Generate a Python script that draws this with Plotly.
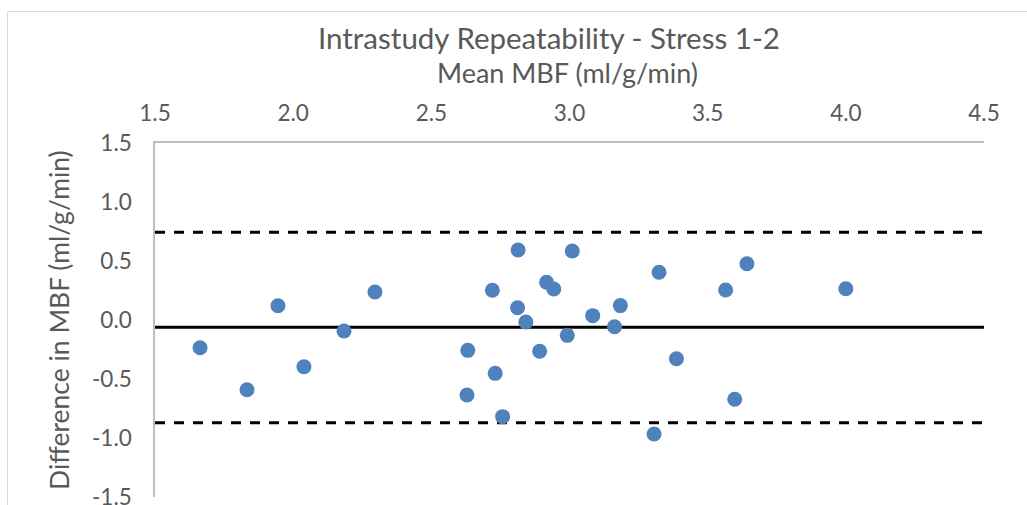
import plotly.graph_objects as go

# Bland-Altman data: mean of the two stress studies vs. their difference
mean_mbf = [1.663, 1.833, 1.945, 2.039, 2.184, 2.296, 2.632, 2.629, 2.721, 2.731,
            2.758, 2.814, 2.812, 2.842, 2.892, 2.917, 2.943, 2.992, 3.010, 3.084,
            3.163, 3.184, 3.306, 3.324, 3.387, 3.565, 3.598, 3.642, 4.000]
diff_mbf = [-0.235, -0.591, 0.121, -0.396, -0.093, 0.237, -0.257, -0.636, 0.252, -0.452,
            -0.819, 0.593, 0.104, -0.017, -0.265, 0.320, 0.263, -0.130, 0.585, 0.037,
            -0.057, 0.122, -0.966, 0.405, -0.328, 0.254, -0.672, 0.477, 0.265]

# Bias and limits of agreement
bias = -0.062
loa_upper = 0.743
loa_lower = -0.870

x_range = [1.5, 4.5]
y_range = [-1.5, 1.5]
x_ticks = [1.5, 2.0, 2.5, 3.0, 3.5, 4.0, 4.5]
x_tick_labels = ["1.5", "2.0", "2.5", "3.0", "3.5", "4.0", "4.5"]
y_ticks = [1.5, 1.0, 0.5, 0.0, -0.5, -1.0, -1.5]
y_tick_labels = ["1.5", "1.0", "0.5", "0.0", "-0.5", "-1.0", "-1.5"]

FONT = "Lato"
TEXT = "#595959"
AXIS = "#bfbfbf"

W, H = 1027, 505
ML, MR, MT, MB = 155, 43, 143, 8
PW, PH = W - ML - MR, H - MT - MB


def px_x(p):
    return (p - ML) / PW


def px_y(p):
    return (H - MB - p) / PH


fig = go.Figure()

fig.add_trace(go.Scatter(x=x_range, y=[loa_upper, loa_upper], mode="lines",
                         line=dict(color="black", width=3, dash="10px,9px"),
                         hoverinfo="skip", showlegend=False))
fig.add_trace(go.Scatter(x=x_range, y=[loa_lower, loa_lower], mode="lines",
                         line=dict(color="black", width=3, dash="10px,9px"),
                         hoverinfo="skip", showlegend=False))
fig.add_trace(go.Scatter(x=x_range, y=[bias, bias], mode="lines",
                         line=dict(color="black", width=3),
                         hoverinfo="skip", showlegend=False))
fig.add_trace(go.Scatter(x=mean_mbf, y=diff_mbf, mode="markers",
                         marker=dict(color="#4F81BD", size=15),
                         showlegend=False))

fig.update_layout(
    width=W, height=H,
    margin=dict(l=ML, r=MR, t=MT, b=MB),
    paper_bgcolor="white", plot_bgcolor="white",
    font=dict(family=FONT, color=TEXT),
    xaxis=dict(range=x_range, side="top", tickvals=x_ticks, ticktext=x_tick_labels,
               showgrid=False, zeroline=False, showline=True, linecolor=AXIS,
               linewidth=1.5, ticks="", ticklabelstandoff=11,
               ticklabeloverflow="allow", automargin=False,
               tickfont=dict(family=FONT, size=22.5, color=TEXT)),
    yaxis=dict(range=y_range, tickvals=y_ticks, ticktext=y_tick_labels,
               showgrid=False, zeroline=False, showline=True, linecolor=AXIS,
               linewidth=1.5, ticks="", ticklabelstandoff=17,
               ticklabeloverflow="allow", automargin=False,
               tickfont=dict(family=FONT, size=22.5, color=TEXT)),
    shapes=[dict(type="rect", xref="paper", yref="paper",
                 x0=px_x(7.5), x1=px_x(1040), y0=px_y(520), y1=px_y(11.5),
                 line=dict(color="#d9d9d9", width=1), fillcolor="rgba(0,0,0,0)",
                 layer="below")],
    annotations=[
        dict(text="Intrastudy Repeatability - Stress 1-2", xref="paper", yref="paper",
             x=px_x(549), y=px_y(38), showarrow=False, xanchor="center", yanchor="middle",
             font=dict(family=FONT, size=29.5, color=TEXT)),
        dict(text="Mean MBF (ml/g/min)", xref="paper", yref="paper",
             x=px_x(567), y=px_y(73), showarrow=False, xanchor="center", yanchor="middle",
             font=dict(family=FONT, size=27, color=TEXT)),
        dict(text="Difference in MBF (ml/g/min)", xref="paper", yref="paper",
             x=px_x(59), y=px_y(320), showarrow=False, xanchor="center", yanchor="middle",
             textangle=-90, font=dict(family=FONT, size=26.5, color=TEXT)),
    ],
)

fig.write_html("out.html")
